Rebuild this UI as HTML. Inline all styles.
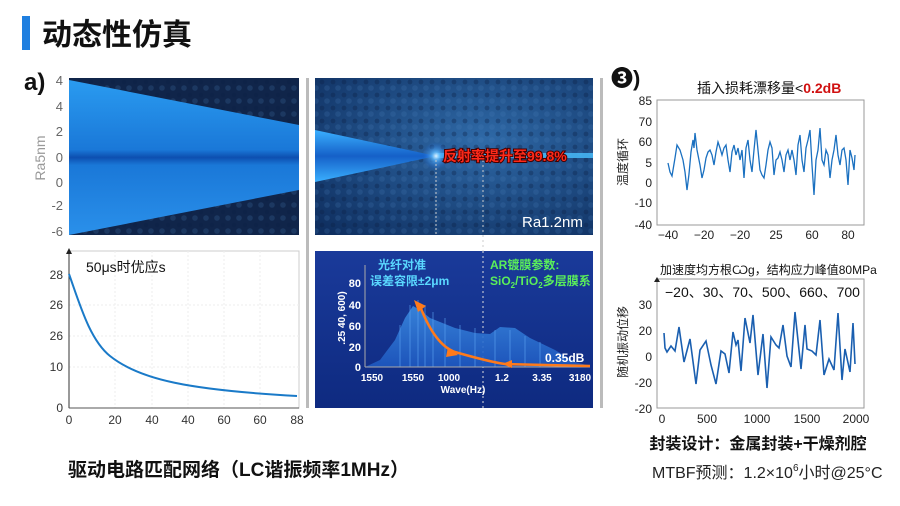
<!DOCTYPE html>
<html><head><meta charset="utf-8"><style>
html,body{margin:0;padding:0;background:#fff;}
svg{display:block;font-family:"Liberation Sans","Noto Sans CJK SC",sans-serif;}
</style></head><body>
<svg width="900" height="506" viewBox="0 0 900 506" xmlns="http://www.w3.org/2000/svg">
<defs>
<linearGradient id="wedge" x1="0" y1="0" x2="0" y2="1">
<stop offset="0" stop-color="#2a9bf0"/><stop offset="0.45" stop-color="#1a78d8"/><stop offset="0.5" stop-color="#0d4fb0"/><stop offset="0.55" stop-color="#1a78d8"/><stop offset="1" stop-color="#2a90ea"/></linearGradient>
<linearGradient id="beam" x1="0" y1="0" x2="0" y2="1">
<stop offset="0" stop-color="#3ab0ff"/><stop offset="0.5" stop-color="#1560c8"/><stop offset="1" stop-color="#3ab0ff"/></linearGradient>
<radialGradient id="rough" cx="0.6" cy="0.4" r="0.8"><stop offset="0" stop-color="#2f6aa8"/><stop offset="1" stop-color="#0f2f60"/></radialGradient>
<radialGradient id="glow"><stop offset="0" stop-color="#e0f4ff"/><stop offset="0.3" stop-color="#5ab8ff" stop-opacity="0.8"/><stop offset="1" stop-color="#1a60d0" stop-opacity="0"/></radialGradient>
<linearGradient id="panel" x1="0" y1="0" x2="0" y2="1"><stop offset="0" stop-color="#1a3a9a"/><stop offset="1" stop-color="#0e2a80"/></linearGradient>
<linearGradient id="spec" x1="0" y1="0" x2="0" y2="1"><stop offset="0" stop-color="#3a8ae0"/><stop offset="1" stop-color="#1e58c0"/></linearGradient>
<pattern id="tex" width="11" height="13" patternUnits="userSpaceOnUse">
<circle cx="3" cy="4" r="2.4" fill="#0a1f45" opacity="0.35"/><circle cx="8" cy="10" r="2.8" fill="#4a80c0" opacity="0.2"/></pattern>
</defs>

<rect x="22" y="16" width="8" height="34" fill="#1f7fe0"/>
<text x="42" y="45" font-size="30" font-weight="bold" fill="#111">动态性仿真</text>
<text x="24" y="90" font-size="24" font-weight="bold" fill="#111">a)</text>

<rect x="69" y="78" width="230" height="157" fill="#10254a"/>
<rect x="69" y="78" width="230" height="157" fill="url(#tex)"/>
<polygon points="69,80 299,125 299,190 69,235" fill="url(#wedge)"/>
<g font-size="13" fill="#666" text-anchor="end">
<text x="63" y="85">4</text><text x="63" y="111">4</text><text x="63" y="136">2</text><text x="63" y="162">0</text><text x="63" y="187">0</text><text x="63" y="210">-2</text><text x="63" y="236">-6</text></g>
<text transform="translate(45,158) rotate(-90)" font-size="14" fill="#999" text-anchor="middle">Ra5nm</text>

<rect x="69" y="251" width="230" height="157" fill="#fff" stroke="#ccc"/>
<g stroke="#eee" stroke-dasharray="2,2"><line x1="115" y1="251" x2="115" y2="408"/><line x1="152" y1="251" x2="152" y2="408"/><line x1="188" y1="251" x2="188" y2="408"/><line x1="224" y1="251" x2="224" y2="408"/><line x1="260" y1="251" x2="260" y2="408"/><line x1="69" y1="305" x2="299" y2="305"/><line x1="69" y1="336" x2="299" y2="336"/><line x1="69" y1="367" x2="299" y2="367"/></g>
<line x1="69" y1="252" x2="69" y2="408" stroke="#333"/><polygon points="66,254 72,254 69,248" fill="#222"/>
<line x1="69" y1="408" x2="299" y2="408" stroke="#555"/>
<path d="M69,274 C80,305 90,340 110,356 C140,380 190,390 297,396" fill="none" stroke="#1a7ac8" stroke-width="2"/>
<text x="86" y="272" font-size="14" fill="#111">50μs时优应s</text>
<g font-size="12" fill="#333" text-anchor="end"><text x="63" y="279">28</text><text x="63" y="309">26</text><text x="63" y="340">26</text><text x="63" y="371">10</text><text x="63" y="412">0</text></g>
<g font-size="12" fill="#333" text-anchor="middle"><text x="69" y="424">0</text><text x="115" y="424">20</text><text x="152" y="424">40</text><text x="188" y="424">40</text><text x="224" y="424">60</text><text x="260" y="424">60</text><text x="297" y="424">88</text></g>
<text x="68" y="476" font-size="19" font-weight="bold" fill="#111">驱动电路匹配网络（LC谐振频率1MHz）</text>

<rect x="306" y="78" width="3" height="330" fill="#bbb"/>
<rect x="600" y="78" width="3" height="330" fill="#bbb"/>

<rect x="315" y="78" width="278" height="157" fill="url(#rough)"/>
<rect x="315" y="78" width="278" height="157" fill="url(#tex)"/>
<polygon points="315,130 436,156 315,182" fill="url(#beam)"/>
<rect x="436" y="153" width="157" height="5" fill="#4ac0ff" opacity="0.8"/>
<circle cx="436" cy="156" r="14" fill="url(#glow)"/>
<line x1="436" y1="160" x2="436" y2="235" stroke="#ccc" stroke-dasharray="2,2"/>
<line x1="483" y1="160" x2="483" y2="408" stroke="#ccc" stroke-dasharray="2,3"/>
<text x="443" y="161" font-size="14" font-weight="bold" fill="#ff2a1a" stroke="#400" stroke-width="2" paint-order="stroke">反射率提升至99.8%</text>
<text x="522" y="227" font-size="15" fill="#fff">Ra1.2nm</text>

<rect x="315" y="251" width="278" height="157" fill="url(#panel)"/>
<line x1="483" y1="251" x2="483" y2="408" stroke="#ddd" stroke-dasharray="2,3"/>
<polygon points="365,367 380,360 395,340 405,318 413,306 420,310 430,318 455,328 475,333 490,334 500,327 515,328 530,338 555,350 575,362 590,366 590,367" fill="url(#spec)" opacity="0.9"/>
<g stroke="#5aa0f0" stroke-width="0.8" opacity="0.8"><line x1="400" y1="367" x2="400" y2="325"/><line x1="410" y1="367" x2="410" y2="305"/><line x1="418" y1="367" x2="418" y2="300"/><line x1="425" y1="367" x2="425" y2="305"/><line x1="433" y1="367" x2="433" y2="312"/><line x1="445" y1="367" x2="445" y2="318"/><line x1="460" y1="367" x2="460" y2="325"/><line x1="475" y1="367" x2="475" y2="328"/><line x1="495" y1="367" x2="495" y2="330"/><line x1="510" y1="367" x2="510" y2="330"/><line x1="525" y1="367" x2="525" y2="336"/><line x1="540" y1="367" x2="540" y2="342"/></g>
<line x1="365" y1="265" x2="365" y2="367" stroke="#aaa"/><line x1="365" y1="367" x2="590" y2="367" stroke="#aaa"/>
<path d="M420,306 Q435,345 455,352 Q490,362 505,364 L590,366" fill="none" stroke="#ff7a1a" stroke-width="2.5"/>
<polygon points="414,300 426,306 418,312" fill="#ff7a1a"/><polygon points="448,347 458,355 446,357" fill="#ff7a1a"/><polygon points="512,360 512,368 502,364" fill="#ff7a1a"/>
<g font-size="11" font-weight="bold" fill="#fff" text-anchor="end"><text x="361" y="287">80</text><text x="361" y="309">40</text><text x="361" y="330">60</text><text x="361" y="351">20</text><text x="361" y="371">0</text></g>
<text transform="translate(345,318) rotate(-90)" font-size="10" font-weight="bold" fill="#fff" text-anchor="middle">.25 40, 600)</text>
<g font-size="10" font-weight="bold" fill="#fff" text-anchor="middle"><text x="372" y="381">1550</text><text x="413" y="381">1550</text><text x="449" y="381">1000</text><text x="502" y="381">1.2</text><text x="542" y="381">3.35</text><text x="580" y="381">3180</text></g>
<text x="463" y="393" font-size="10" font-weight="bold" fill="#fff" text-anchor="middle">Wave(Hz)</text>
<text x="378" y="269" font-size="12" font-weight="bold" fill="#5ad8ff">光纤对准</text>
<text x="370" y="285" font-size="12" font-weight="bold" fill="#5ad8ff">误差容限±2μm</text>
<text x="490" y="269" font-size="12" font-weight="bold" fill="#5aef5a">AR镀膜参数:</text>
<text x="490" y="285" font-size="12" font-weight="bold" fill="#5aef5a">SiO<tspan font-size="8" dy="3">2</tspan><tspan dy="-3">/TiO</tspan><tspan font-size="8" dy="3">2</tspan><tspan dy="-3">多层膜系</tspan></text>
<text x="545" y="362" font-size="12" font-weight="bold" fill="#fff">0.35dB</text>

<text x="611" y="86" font-size="22" font-weight="bold" fill="#111">❸)</text>
<text x="697" y="93" font-size="14" fill="#111">插入损耗漂移量&lt;<tspan fill="#d01010" font-weight="bold">0.2dB</tspan></text>
<rect x="657" y="100" width="207" height="125" fill="#fff" stroke="#999"/>
<g font-size="12" fill="#222" text-anchor="end"><text x="652" y="105">85</text><text x="652" y="126">70</text><text x="652" y="146">60</text><text x="652" y="167">5</text><text x="652" y="187">0</text><text x="652" y="207">-10</text><text x="652" y="229">-40</text></g>
<g font-size="12" fill="#222" text-anchor="middle"><text x="668" y="239">−40</text><text x="704" y="239">−20</text><text x="740" y="239">−20</text><text x="776" y="239">25</text><text x="812" y="239">60</text><text x="848" y="239">80</text></g>
<text transform="translate(627,162) rotate(-90)" font-size="12" fill="#222" text-anchor="middle">温度循环</text>
<polyline fill="none" stroke="#1a70c0" stroke-width="1.3" points="668,163 670,172 672,176 675,158 677,145 680,150 683,160 685,172 687,190 689,174 691,152 693,140 694,148 695,133 697,150 700,165 702,178 704,170 706,158 708,152 710,150 712,155 714,165 716,152 718,142 720,148 722,155 724,148 726,145 728,160 730,172 732,152 734,145 736,155 738,148 740,160 742,150 744,178 746,148 748,140 750,160 752,172 754,150 756,130 758,150 760,170 762,175 764,178 766,165 768,150 770,142 772,148 774,175 776,160 778,158 780,152 782,160 784,172 786,155 788,150 790,160 792,150 794,160 796,175 798,145 800,135 802,160 804,172 806,148 808,140 810,130 812,165 814,195 816,160 818,150 820,128 822,160 824,165 826,150 828,155 830,178 832,160 834,150 836,135 838,155 840,165 842,150 844,148 846,160 848,185 850,150 852,158 854,170 855,155"/>
<text x="660" y="274" font-size="12" fill="#111">加速度均方根Ѡg，结构应力峰值80MPa</text>
<rect x="657" y="279" width="207" height="129" fill="#fff" stroke="#999"/>
<polygon points="654,282 660,282 657,277" fill="#222"/>
<text x="665" y="297" font-size="14" fill="#111">−20、30、70、500、660、700</text>
<g font-size="12" fill="#222" text-anchor="end"><text x="652" y="309">30</text><text x="652" y="335">20</text><text x="652" y="361">0</text><text x="652" y="387">-20</text><text x="652" y="413">-20</text></g>
<g font-size="12" fill="#222" text-anchor="middle"><text x="662" y="423">0</text><text x="707" y="423">500</text><text x="757" y="423">1000</text><text x="807" y="423">1500</text><text x="856" y="423">2000</text></g>
<text transform="translate(627,342) rotate(-90)" font-size="12" fill="#222" text-anchor="middle">随机振动位移</text>
<polyline fill="none" stroke="#1a5fb0" stroke-width="1.6" points="664,333 665,348 667,352 671,346 675,351 679,327 684,362 690,339 696,384 700,350 706,341 711,365 716,384 721,351 725,354 729,373 733,332 736,345 738,340 741,371 745,318 750,343 753,315 758,375 763,334 767,388 771,337 776,345 779,348 783,325 787,356 791,367 795,312 801,369 805,325 807,349 812,351 816,355 820,320 824,375 829,359 834,370 838,313 842,380 845,349 850,372 853,323 855,364"/>
<text x="758" y="449" font-size="16" font-weight="bold" fill="#111" text-anchor="middle">封装设计：金属封装+干燥剂腔</text>
<text x="652" y="478" font-size="16" fill="#222">MTBF预测：1.2×10<tspan font-size="10" dy="-7">6</tspan><tspan dy="7">小时@25°C</tspan></text>
</svg>
</body></html>
